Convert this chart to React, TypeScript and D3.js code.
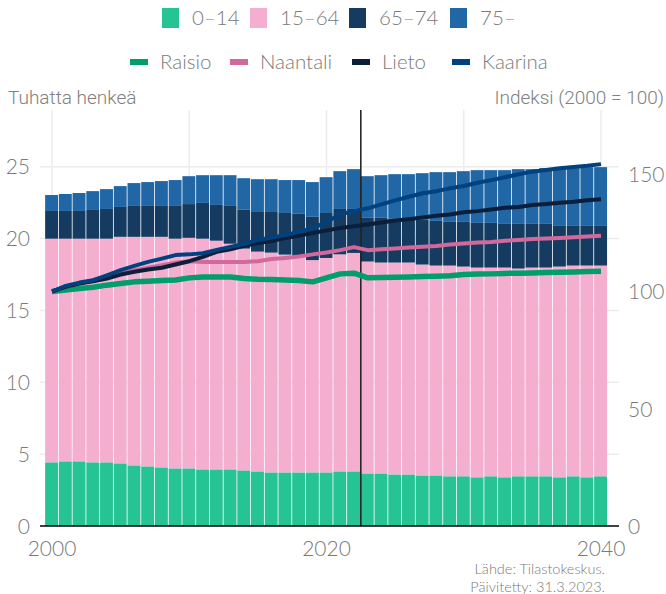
import React from "react";
import * as d3 from "d3";

const years = [2000,2001,2002,2003,2004,2005,2006,2007,2008,2009,2010,2011,2012,2013,2014,2015,2016,2017,2018,2019,2020,2021,2022,2023,2024,2025,2026,2027,2028,2029,2030,2031,2032,2033,2034,2035,2036,2037,2038,2039,2040];

const age0_14 = [4.43,4.5,4.5,4.43,4.43,4.36,4.22,4.15,4.08,4.01,4.01,3.94,3.94,3.94,3.87,3.8,3.73,3.73,3.73,3.73,3.73,3.8,3.8,3.66,3.66,3.59,3.59,3.52,3.52,3.46,3.46,3.39,3.46,3.39,3.46,3.46,3.46,3.39,3.46,3.39,3.46];
const age15_64 = [15.56,15.49,15.49,15.56,15.56,15.76,15.9,15.97,16.04,15.98,16.04,16.05,15.91,15.7,15.43,15.29,15.29,15.15,15.07,14.77,14.92,15.1,15.2,14.74,14.67,14.74,14.74,14.67,14.6,14.66,14.59,14.59,14.52,14.59,14.45,14.52,14.52,14.66,14.66,14.73,14.66];
const age65_74 = [1.93,1.93,1.93,2.0,2.07,2.08,2.15,2.15,2.15,2.28,2.35,2.49,2.49,2.63,2.7,2.76,2.83,2.9,2.92,3.01,3.13,3.16,3.06,3.04,3.11,3.04,3.04,3.11,3.11,3.08,3.11,3.11,3.11,3.04,3.11,3.04,3.04,2.83,2.76,2.76,2.76];
const age75 = [1.11,1.18,1.25,1.31,1.38,1.45,1.59,1.66,1.73,1.8,1.94,1.93,2.07,2.14,2.2,2.28,2.28,2.29,2.35,2.42,2.49,2.63,2.77,2.9,2.97,3.11,3.11,3.25,3.39,3.42,3.53,3.67,3.67,3.74,3.81,3.81,3.88,4.02,4.02,4.09,4.09];

const raisio = [100,100.6,101.3,101.8,102.7,103.4,104.1,104.4,104.7,104.9,105.8,106.2,106.2,106.2,105.5,105.2,105.1,104.9,104.7,104.1,105.8,107.5,107.8,105.8,106.0,106.1,106.2,106.4,106.5,106.7,107.2,107.4,107.5,107.7,107.8,107.9,108.1,108.2,108.3,108.5,108.6];
const naantali = [100,102.0,103.4,104.8,106.2,107.7,109.1,110.1,111.2,112.3,112.9,112.6,112.6,112.6,112.6,112.9,113.8,114.3,114.9,115.8,116.6,117.6,118.9,117.6,118.0,118.3,118.7,119.0,119.4,120.0,120.4,120.9,121.1,121.6,121.9,122.3,122.6,122.8,123.1,123.4,123.7];
const lieto = [100,102.0,103.4,104.4,105.5,107.2,108.4,109.4,110.1,111.5,112.9,114.7,116.9,118.0,119.4,120.6,121.5,122.7,123.8,124.9,126.0,127.0,127.8,128.5,129.4,130.2,130.8,131.5,132.2,132.8,133.7,134.2,134.9,135.6,136.0,136.8,137.2,137.8,138.2,138.8,139.3];
const kaarina = [100,102.4,103.8,104.8,106.9,109.1,110.9,112.6,114.0,115.5,115.8,116.3,117.7,119.0,120.3,121.9,123.0,124.0,125.4,126.8,129.7,132.8,134.2,135.4,137.1,138.8,140.3,141.8,142.7,143.9,144.9,146.3,147.4,148.6,149.9,151.0,151.7,152.4,153.0,153.5,154.2];

const ageLabels = ["0–14", "15–64", "65–74", "75–"];
const ageColors = ["#26c495", "#f4afd0", "#163b61", "#2166a5"];
const lineLabels = ["Raisio", "Naantali", "Lieto", "Kaarina"];
const lineColors = ["#009e6b", "#d2699c", "#0b1e3a", "#00417f"];
const leftTicks = [0, 5, 10, 15, 20, 25];
const rightTicks = [0, 50, 100, 150];
const xTicks = [2000, 2020, 2040];
const xGrid = [2000, 2010, 2020, 2030, 2040];
const forecastStart = 2022.5;

export default function App() {
  const W = 666, H = 594;
  const x = d3.scaleLinear().domain([2000, 2040]).range([52, 601]);
  const step = x(2001) - x(2000);
  const yL = d3.scaleLinear().domain([0, 25]).range([526, 166.7]);
  const yR = d3.scaleLinear().domain([0, 150]).range([526.5, 174]);
  const plotTop = 110, plotLeft = 40, plotRight = 619;

  const rows = years.map((yr, i) => ({ year: yr, a: age0_14[i], b: age15_64[i], c: age65_74[i], d: age75[i] }));
  const stack = d3.stack<any>().keys(["a", "b", "c", "d"])(rows);

  const series = [raisio, naantali, lieto, kaarina];
  const lineGen = d3.line<number>().x((_, i) => x(years[i])).y((v) => yR(v));
  const widths = [5.5, 4, 4, 4];

  const tickFont = "Lato, 'Open Sans', sans-serif";
  const gray = "#7a7a7a";

  const legend1X = [162, 250, 349, 450];
  const legend2X = [130, 230, 352, 452];

  return (
    <svg width={W} height={H} style={{ position: "absolute", left: 0, top: 0, background: "#fff" }}>
      {/* gridlines */}
      {leftTicks.filter((t) => t > 0).map((t) => (
        <line key={"h" + t} x1={plotLeft} x2={plotRight} y1={yL(t)} y2={yL(t)} stroke="#ececec" strokeWidth={1.5} />
      ))}
      {xGrid.map((t) => (
        <line key={"v" + t} x1={x(t)} x2={x(t)} y1={plotTop} y2={yL(0)} stroke="#ececec" strokeWidth={1.5} />
      ))}
      {/* bars */}
      {stack.map((s, k) => (
        <g key={k} fill={ageColors[k]}>
          {s.map((d: any, i: number) => (
            <rect key={i} x={x(years[i]) - step / 2} width={step - 0.8} y={yL(d[1])} height={yL(d[0]) - yL(d[1])} />
          ))}
        </g>
      ))}
      {/* forecast line */}
      <line x1={x(forecastStart)} x2={x(forecastStart)} y1={plotTop} y2={yL(0)} stroke="#1a1a1a" strokeWidth={1.5} />
      {/* index lines */}
      {series.map((s, k) => (
        <path key={k} d={lineGen(s) || ""} fill="none" stroke={lineColors[k]} strokeWidth={widths[k]} strokeLinejoin="round" />
      ))}
      {/* x axis */}
      <line x1={plotLeft} x2={plotRight} y1={yL(0)} y2={yL(0)} stroke="#000" strokeWidth={1.5} />
      {xTicks.map((t) => (
        <text key={t} x={x(t)} y={556} textAnchor="middle" fontFamily={tickFont} fontSize={21} fill={gray} fontWeight={300}>{t}</text>
      ))}
      {leftTicks.map((t) => (
        <text key={t} x={30} y={yL(t)} dy="0.36em" textAnchor="end" fontFamily={tickFont} fontSize={21} fill={gray} fontWeight={300}>{t}</text>
      ))}
      {rightTicks.map((t) => (
        <text key={t} x={628} y={yR(t)} dy="0.36em" textAnchor="start" fontFamily={tickFont} fontSize={21} fill={gray} fontWeight={300}>{t}</text>
      ))}
      {/* axis titles */}
      <text x={8} y={104} fontFamily="Roboto, sans-serif" fontSize={19} fill="#808080" fontWeight={300}>Tuhatta henkeä</text>
      <text x={664} y={104} textAnchor="end" fontFamily="Roboto, sans-serif" fontSize={19} fill="#808080" fontWeight={300}>Indeksi (2000 = 100)</text>
      {/* legend row 1 */}
      {ageLabels.map((l, k) => (
        <g key={l}>
          <rect x={legend1X[k]} y={8} width={17} height={20} fill={ageColors[k]} />
          <text x={legend1X[k] + 30} y={25} fontFamily={tickFont} fontSize={20.5} fill={gray} fontWeight={300}>{l}</text>
        </g>
      ))}
      {/* legend row 2 */}
      {lineLabels.map((l, k) => (
        <g key={l}>
          <rect x={legend2X[k]} y={59} width={18} height={6} fill={lineColors[k]} />
          <text x={legend2X[k] + 30} y={69} fontFamily={tickFont} fontSize={20.5} fill={gray} fontWeight={300}>{l}</text>
        </g>
      ))}
      {/* footnote */}
      <text x={605} y={574} textAnchor="end" fontFamily={tickFont} fontSize={14.5} fill={gray} fontWeight={300}>Lähde: Tilastokeskus.</text>
      <text x={605} y={592} textAnchor="end" fontFamily={tickFont} fontSize={14.5} fill={gray} fontWeight={300}>Päivitetty: 31.3.2023.</text>
    </svg>
  );
}
